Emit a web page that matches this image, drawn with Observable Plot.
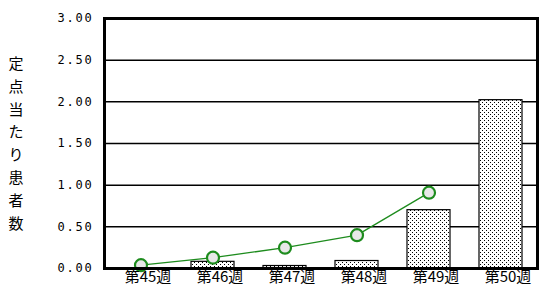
<!DOCTYPE html>
<html><head><meta charset="utf-8">
<script src="https://cdn.jsdelivr.net/npm/d3@7"></script>
<script src="https://cdn.jsdelivr.net/npm/@observablehq/plot@0.6"></script>
<style>body{margin:0;background:#fff}
g[aria-label="y-axis tick label"] text{letter-spacing:1.8px}</style>
</head><body><div id="chart"></div>
<script>
const weeks = ["第45週","第46週","第47週","第48週","第49週","第50週"];
const barValues = [0.00, 0.08, 0.03, 0.09, 0.70, 2.02];
const lineWeeks = ["第45週","第46週","第47週","第48週","第49週"];
const lineValues = [0.04, 0.13, 0.25, 0.40, 0.91];
const yTicks = [0, 0.5, 1, 1.5, 2, 2.5, 3];
const yTitle = "定点当たり患者数";

const bars = weeks.map((w, i) => ({week: w, value: barValues[i]}));
const pts = lineWeeks.map((w, i) => ({week: w, value: lineValues[i]}));
const green = "#1e8c1e";

const chart = Plot.plot({
  width: 539, height: 285,
  marginLeft: 104, marginRight: 2, marginTop: 18, marginBottom: 17,
  style: {fontFamily: "'Noto Sans CJK JP', sans-serif", background: "#fff", color: "#000"},
  x: {domain: weeks, paddingInner: 0.4, paddingOuter: 0.2, label: null},
  y: {domain: [0, 3], label: null},
  marks: [
    Plot.ruleY(yTicks.slice(1, -1), {stroke: "#000", strokeWidth: 1.5}),
    Plot.barY(bars, {x: "week", y: "value", fill: "url(#dots)", stroke: "#000", strokeWidth: 1.2}),
    Plot.line(pts, {x: "week", y: "value", stroke: green, strokeWidth: 1.3}),
    Plot.dot(pts, {x: "week", y: "value", r: 6, fill: "#e8e8e8", stroke: green, strokeWidth: 2.2}),
    Plot.frame({stroke: "#000", strokeWidth: 3}),
    Plot.axisY({ticks: yTicks, tickFormat: d => d.toFixed(2), tickSize: 0, tickPadding: 11,
      fontFamily: "'DejaVu Sans Mono', monospace", fontSize: 12, label: null}),
    Plot.axisX({tickSize: 0, tickPadding: 3, fontSize: 15, dx: 7, label: null}),
    Plot.text([yTitle.split("").join("\n")], {frameAnchor: "left", dx: -96, dy: -2,
      fontSize: 15, lineHeight: 1.52, fill: "#000"})
  ]
});

const svg = d3.select(chart);
const defs = svg.insert("defs", ":first-child");
const p = defs.append("pattern").attr("id", "dots").attr("patternUnits", "userSpaceOnUse")
  .attr("width", 4).attr("height", 4);
p.append("rect").attr("width", 4).attr("height", 4).attr("fill", "#fff");
p.append("rect").attr("x", 0).attr("y", 0).attr("width", 1).attr("height", 1).attr("fill", "#000");
p.append("rect").attr("x", 2).attr("y", 2).attr("width", 1).attr("height", 1).attr("fill", "#000");
document.getElementById("chart").appendChild(chart);
</script>
</body></html>
